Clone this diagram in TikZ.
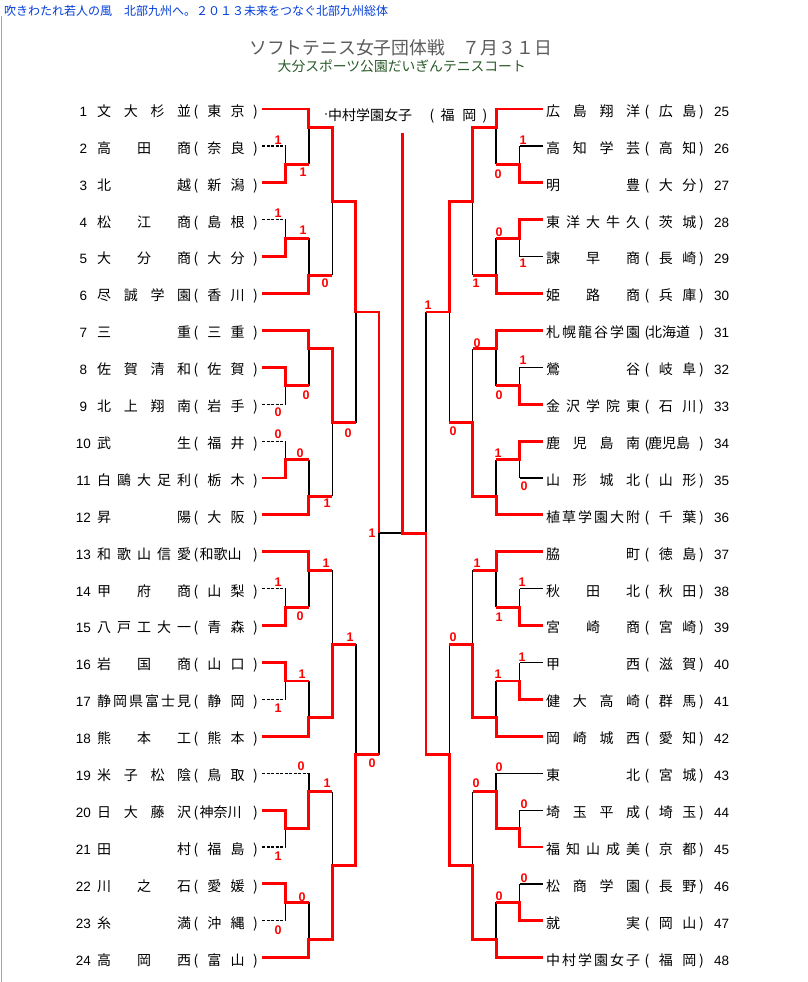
\documentclass[tikz,border=0pt]{standalone}
\usepackage{fontspec}
\setmainfont{Noto Sans CJK JP}
\newfontfamily\numfont{Liberation Sans}
\newfontfamily\labfont{Liberation Sans}
\definecolor{hdrblue}{RGB}{0,60,220}
\definecolor{ttlgray}{RGB}{90,90,90}
\definecolor{subgreen}{RGB}{40,90,40}
\definecolor{winred}{RGB}{255,0,0}
\def\spreadA#1#2{#1\ifx\relax#2\else\hfil\expandafter\spreadA\expandafter#2\fi}
\newcommand\spr[1]{\spreadA#1\relax}
\def\xLa{285.4}\def\xLb{308.8}\def\xLc{332.2}\def\xLd{355.6}\def\xLe{379}
\def\xRa{519.6}\def\xRb{496.2}\def\xRc{472.8}\def\xRd{449.4}\def\xRe{426}
\def\xXc{402.5}
% left team: number, y, name, prefecture text, prefecture centre x
\newcommand\tmL[5]{%
  \coordinate (eL#1) at (262,#2);
  \node[tn, anchor=base] (numL#1) at (83.5,#2+7.3) {#1};
  \node[tj, anchor=base west] (nameL#1) at (97,#2+7.3) {\makebox[94pt][s]{\spr{#3}}};
  \node[tj, anchor=base] (poL#1) at (196,#2+7.3) {(};
  \node[tj, anchor=base] (prL#1) at (#5,#2+7.3) {#4};
  \node[tj, anchor=base] (pcL#1) at (255.5,#2+7.3) {)};
}
\newcommand\tmR[5]{%
  \coordinate (eR#1) at (543,#2);
  \node[tj, anchor=base west] (nameR#1) at (546,#2+7.3) {\makebox[94pt][s]{\spr{#3}}};
  \node[tj, anchor=base] (poR#1) at (647,#2+7.3) {(};
  \node[tj, anchor=base] (prR#1) at (#5,#2+7.3) {#4};
  \node[tj, anchor=base] (pcR#1) at (701.5,#2+7.3) {)};
  \node[tn, anchor=base west] (numR#1) at (714,#2+7.3) {#1};
}
\newcommand\two[2]{#1\hspace{9.5pt}#2}
\tikzset{
  tj/.style={inner sep=0pt, font=\fontsize{14}{14}\selectfont},
  tn/.style={inner sep=0pt, font=\numfont\fontsize{13.5}{14}\selectfont},
  sc/.style={inner sep=0pt, text=winred, font=\labfont\bfseries\fontsize{12.5}{12.5}\selectfont},
  win/.style={draw=winred, line width=2.9pt, line join=miter},
  lose/.style={draw=black, line width=0.9pt},
  losek/.style={draw=black, line width=1.8pt},
  losed/.style={draw=black, line width=1.2pt, dash pattern=on 3pt off 1.5pt},
  loses/.style={draw=black, line width=1.2pt},
}
\begin{document}
\begin{tikzpicture}[x=1pt,y=-1pt]
\useasboundingbox (0,0) rectangle (808,982);
\fill[white] (0,0) rectangle (808,982);
\draw[gray!70, line width=1pt] (1.5,16) -- (1.5,982);

% headers
\node[inner sep=0pt, anchor=base west, text=hdrblue, font=\fontsize{12}{12}\selectfont] (hdr) at (4,15.5)
  {吹きわたれ若人の風　北部九州へ。２０１３未来をつなぐ北部九州総体};
\node[inner sep=0pt, anchor=base west, text=ttlgray, font=\fontsize{17.8}{18}\selectfont] (title) at (249,54.3)
  {ソフトテニス女子団体戦　７月３１日};
\node[inner sep=0pt, anchor=base west, text=subgreen, font=\fontsize{13.8}{14}\selectfont] (sub) at (277.5,71.2)
  {大分スポーツ公園だいぎんテニスコート};
% champion
\fill[black] (326,114) circle (0.9);
\node[tj, anchor=base west] (champ) at (328,120.3) {中村学園女子};
\node[tj, anchor=base] (champo) at (432,120.3) {(};
\node[tj, anchor=base] (champp) at (458.5,120.3) {福\hspace{7.7pt}岡};
\node[tj, anchor=base] (champc) at (485,120.3) {)};

% left teams
\tmL{1}{109}{文大杉並}{\two{東}{京}}{226}
\tmL{2}{145.9}{高田商}{\two{奈}{良}}{226}
\tmL{3}{182.8}{北越}{\two{新}{潟}}{226}
\tmL{4}{219.7}{松江商}{\two{島}{根}}{226}
\tmL{5}{256.6}{大分商}{\two{大}{分}}{226}
\tmL{6}{293.5}{尽誠学園}{\two{香}{川}}{226}
\tmL{7}{330.4}{三重}{\two{三}{重}}{226}
\tmL{8}{367.3}{佐賀清和}{\two{佐}{賀}}{226}
\tmL{9}{404.2}{北上翔南}{\two{岩}{手}}{226}
\tmL{10}{441.1}{武生}{\two{福}{井}}{226}
\tmL{11}{478}{白鷗大足利}{\two{栃}{木}}{226}
\tmL{12}{514.9}{昇陽}{\two{大}{阪}}{226}
\tmL{13}{551.8}{和歌山信愛}{和歌山}{220.5}
\tmL{14}{588.7}{甲府商}{\two{山}{梨}}{226}
\tmL{15}{625.6}{八戸工大一}{\two{青}{森}}{226}
\tmL{16}{662.5}{岩国商}{\two{山}{口}}{226}
\tmL{17}{699.4}{静岡県富士見}{\two{静}{岡}}{226}
\tmL{18}{736.3}{熊本工}{\two{熊}{本}}{226}
\tmL{19}{773.2}{米子松陰}{\two{鳥}{取}}{226}
\tmL{20}{810.1}{日大藤沢}{神奈川}{220.5}
\tmL{21}{847}{田村}{\two{福}{島}}{226}
\tmL{22}{883.9}{川之石}{\two{愛}{媛}}{226}
\tmL{23}{920.8}{糸満}{\two{沖}{縄}}{226}
\tmL{24}{957.7}{高岡西}{\two{富}{山}}{226}

% right teams
\tmR{25}{109}{広島翔洋}{\two{広}{島}}{677.5}
\tmR{26}{145.9}{高知学芸}{\two{高}{知}}{677.5}
\tmR{27}{182.8}{明豊}{\two{大}{分}}{677.5}
\tmR{28}{219.7}{東洋大牛久}{\two{茨}{城}}{677.5}
\tmR{29}{256.6}{諫早商}{\two{長}{崎}}{677.5}
\tmR{30}{293.5}{姫路商}{\two{兵}{庫}}{677.5}
\tmR{31}{330.4}{札幌龍谷学園}{北海道}{669}
\tmR{32}{367.3}{鶯谷}{\two{岐}{阜}}{677.5}
\tmR{33}{404.2}{金沢学院東}{\two{石}{川}}{677.5}
\tmR{34}{441.1}{鹿児島南}{鹿児島}{669}
\tmR{35}{478}{山形城北}{\two{山}{形}}{677.5}
\tmR{36}{514.9}{植草学園大附}{\two{千}{葉}}{677.5}
\tmR{37}{551.8}{脇町}{\two{徳}{島}}{677.5}
\tmR{38}{588.7}{秋田北}{\two{秋}{田}}{677.5}
\tmR{39}{625.6}{宮崎商}{\two{宮}{崎}}{677.5}
\tmR{40}{662.5}{甲西}{\two{滋}{賀}}{677.5}
\tmR{41}{699.4}{健大高崎}{\two{群}{馬}}{677.5}
\tmR{42}{736.3}{岡崎城西}{\two{愛}{知}}{677.5}
\tmR{43}{773.2}{東北}{\two{宮}{城}}{677.5}
\tmR{44}{810.1}{埼玉平成}{\two{埼}{玉}}{677.5}
\tmR{45}{847}{福知山成美}{\two{京}{都}}{677.5}
\tmR{46}{883.9}{松商学園}{\two{長}{野}}{677.5}
\tmR{47}{920.8}{就実}{\two{岡}{山}}{677.5}
\tmR{48}{957.7}{中村学園女子}{\two{福}{岡}}{677.5}

% ---- black (losing) lines, left
\draw[losed] (eL2)--(\xLa,145.9) (eL4)--(\xLa,219.7) (eL9)--(\xLa,404.2) (eL10)--(\xLa,441.1)
  (eL14)--(\xLa,588.7) (eL17)--(\xLa,699.4) (eL19)--(\xLb,773.2) (eL21)--(\xLa,847) (eL23)--(\xLa,920.8);
\draw[lose] (\xLa,145.9)--(\xLa,164.35) (\xLa,219.7)--(\xLa,238.15) (\xLa,404.2)--(\xLa,385.75)
  (\xLa,441.1)--(\xLa,459.55) (\xLa,588.7)--(\xLa,607.15) (\xLa,699.4)--(\xLa,680.95)
  (\xLa,847)--(\xLa,828.55) (\xLa,920.8)--(\xLa,902.35);
\draw[losek] (\xLb,164.35)--(\xLb,127.45) (\xLb,238.15)--(\xLb,275.05) (\xLb,385.75)--(\xLb,348.85)
  (\xLb,459.55)--(\xLb,496.45) (\xLb,607.15)--(\xLb,570.25) (\xLb,680.95)--(\xLb,717.85)
  (\xLb,773.2)--(\xLb,791.65) (\xLb,902.35)--(\xLb,939.25);
\draw[lose] (\xLc,275.05)--(\xLc,201.25) (\xLc,496.45)--(\xLc,422.65) (\xLc,570.25)--(\xLc,644.05)
  (\xLc,791.65)--(\xLc,865.45);
\draw[losek] (\xLd,422.65)--(\xLd,311.95) (\xLd,644.05)--(\xLd,754.75);
\draw[losek] (\xLe,754.75)--(\xLe,533.35)--(\xXc,533.35);

% ---- black (losing) lines, right
\draw[loses] (eR26)--(\xRa,145.9) (eR29)--(\xRa,256.6) (eR32)--(\xRa,367.3) (eR35)--(\xRa,478)
  (eR38)--(\xRa,588.7) (eR40)--(\xRa,662.5) (eR43)--(\xRb,773.2) (eR44)--(\xRa,810.1) (eR46)--(\xRa,883.9);
\draw[lose] (\xRa,145.9)--(\xRa,164.35) (\xRa,256.6)--(\xRa,238.15) (\xRa,367.3)--(\xRa,385.75)
  (\xRa,478)--(\xRa,459.55) (\xRa,588.7)--(\xRa,607.15) (\xRa,662.5)--(\xRa,680.95)
  (\xRa,810.1)--(\xRa,828.55) (\xRa,883.9)--(\xRa,902.35);
\draw[losek] (\xRb,164.35)--(\xRb,127.45) (\xRb,238.15)--(\xRb,275.05) (\xRb,385.75)--(\xRb,348.85)
  (\xRb,459.55)--(\xRb,496.45) (\xRb,607.15)--(\xRb,570.25) (\xRb,680.95)--(\xRb,717.85)
  (\xRb,773.2)--(\xRb,791.65) (\xRb,902.35)--(\xRb,939.25);
\draw[lose] (\xRc,275.05)--(\xRc,201.25) (\xRc,348.85)--(\xRc,422.65) (\xRc,570.25)--(\xRc,644.05)
  (\xRc,791.65)--(\xRc,865.45);
\draw[losek] (\xRd,422.65)--(\xRd,311.95) (\xRd,644.05)--(\xRd,754.75);
\draw[losek] (\xRe,311.95)--(\xRe,533.35);

% ---- red (winning) paths, left
\draw[win] (eL1)--(\xLb,109)--(\xLb,127.45)--(\xLc,127.45)--(\xLc,201.25)--(\xLd,201.25)--(\xLd,311.95)--(\xLe,311.95)--(\xLe,533.35);
\draw[win] (eL3)--(\xLa,182.8)--(\xLa,164.35)--(\xLb,164.35);
\draw[win] (eL5)--(\xLa,256.6)--(\xLa,238.15)--(\xLb,238.15);
\draw[win] (eL6)--(\xLb,293.5)--(\xLb,275.05)--(\xLc,275.05);
\draw[win] (eL7)--(\xLb,330.4)--(\xLb,348.85)--(\xLc,348.85)--(\xLc,422.65)--(\xLd,422.65);
\draw[win] (eL8)--(\xLa,367.3)--(\xLa,385.75)--(\xLb,385.75);
\draw[win] (eL11)--(\xLa,478)--(\xLa,459.55)--(\xLb,459.55);
\draw[win] (eL12)--(\xLb,514.9)--(\xLb,496.45)--(\xLc,496.45);
\draw[win] (eL13)--(\xLb,551.8)--(\xLb,570.25)--(\xLc,570.25);
\draw[win] (eL15)--(\xLa,625.6)--(\xLa,607.15)--(\xLb,607.15);
\draw[win] (eL16)--(\xLa,662.5)--(\xLa,680.95)--(\xLb,680.95);
\draw[win] (eL18)--(\xLb,736.3)--(\xLb,717.85)--(\xLc,717.85)--(\xLc,644.05)--(\xLd,644.05);
\draw[win] (eL20)--(\xLa,810.1)--(\xLa,828.55)--(\xLb,828.55)--(\xLb,791.65)--(\xLc,791.65);
\draw[win] (eL22)--(\xLa,883.9)--(\xLa,902.35)--(\xLb,902.35);
\draw[win] (eL24)--(\xLb,957.7)--(\xLb,939.25)--(\xLc,939.25)--(\xLc,865.45)--(\xLd,865.45)--(\xLd,754.75)--(\xLe,754.75);

% ---- red (winning) paths, right
\draw[win] (eR25)--(\xRb,109)--(\xRb,127.45)--(\xRc,127.45)--(\xRc,201.25)--(\xRd,201.25)--(\xRd,311.95)--(\xRe,311.95);
\draw[win] (eR27)--(\xRa,182.8)--(\xRa,164.35)--(\xRb,164.35);
\draw[win] (eR28)--(\xRa,219.7)--(\xRa,238.15)--(\xRb,238.15);
\draw[win] (eR30)--(\xRb,293.5)--(\xRb,275.05)--(\xRc,275.05);
\draw[win] (eR31)--(\xRb,330.4)--(\xRb,348.85)--(\xRc,348.85);
\draw[win] (eR33)--(\xRa,404.2)--(\xRa,385.75)--(\xRb,385.75);
\draw[win] (eR34)--(\xRa,441.1)--(\xRa,459.55)--(\xRb,459.55);
\draw[win] (eR36)--(\xRb,514.9)--(\xRb,496.45)--(\xRc,496.45)--(\xRc,422.65)--(\xRd,422.65);
\draw[win] (eR37)--(\xRb,551.8)--(\xRb,570.25)--(\xRc,570.25);
\draw[win] (eR39)--(\xRa,625.6)--(\xRa,607.15)--(\xRb,607.15);
\draw[win] (eR41)--(\xRa,699.4)--(\xRa,680.95)--(\xRb,680.95);
\draw[win] (eR42)--(\xRb,736.3)--(\xRb,717.85)--(\xRc,717.85)--(\xRc,644.05)--(\xRd,644.05);
\draw[win] (eR45)--(\xRa,847)--(\xRa,828.55)--(\xRb,828.55)--(\xRb,791.65)--(\xRc,791.65);
\draw[win] (eR47)--(\xRa,920.8)--(\xRa,902.35)--(\xRb,902.35);
\draw[win] (eR48)--(\xRb,957.7)--(\xRb,939.25)--(\xRc,939.25)--(\xRc,865.45)--(\xRd,865.45)--(\xRd,754.75)--(\xRe,754.75)--(\xRe,533.35)--(\xXc,533.35)--(\xXc,133);

% ---- scores, left
\node[sc] (s2) at (278,140) {1};
\node[sc] (s3) at (303,172) {1};
\node[sc] (s4) at (278,213) {1};
\node[sc] (s5) at (303,230) {1};
\node[sc] (s6) at (325,283) {0};
\node[sc] (s8) at (306,395) {0};
\node[sc] (s9) at (278,412) {0};
\node[sc] (s10) at (278,434) {0};
\node[sc] (s11) at (300,453) {0};
\node[sc] (s12) at (327,503) {1};
\node[sc] (s7) at (348,433) {0};
\node[sc] (s1) at (372,533.5) {1};
\node[sc] (s13) at (326,563) {1};
\node[sc] (s14) at (278,582) {1};
\node[sc] (s15) at (300,616) {0};
\node[sc] (s18) at (350,637) {1};
\node[sc] (s16) at (302,674) {1};
\node[sc] (s17) at (278,708) {1};
\node[sc] (s24) at (372,763) {0};
\node[sc] (s19) at (301,766) {0};
\node[sc] (s20) at (327,783) {1};
\node[sc] (s21) at (278,856) {1};
\node[sc] (s22) at (302,897) {0};
\node[sc] (s23) at (278,930) {0};
% ---- scores, right
\node[sc] (s26) at (523,140) {1};
\node[sc] (s27) at (498,174) {0};
\node[sc] (s28) at (499,232) {0};
\node[sc] (s29) at (523,263) {1};
\node[sc] (s30) at (476,283) {1};
\node[sc] (s25) at (428,305) {1};
\node[sc] (s31) at (477,343) {0};
\node[sc] (s32) at (523,360) {1};
\node[sc] (s33) at (499,395) {0};
\node[sc] (s36) at (453,431) {0};
\node[sc] (s34) at (498,453) {1};
\node[sc] (s35) at (524,486) {0};
\node[sc] (s37) at (477,563) {1};
\node[sc] (s38) at (522,582) {1};
\node[sc] (s39) at (499,617) {1};
\node[sc] (s42) at (453,637) {0};
\node[sc] (s40) at (522,657) {1};
\node[sc] (s41) at (498,674) {1};
\node[sc] (s43) at (499,767) {0};
\node[sc] (s45) at (476,783) {0};
\node[sc] (s44) at (524,804) {0};
\node[sc] (s46) at (524,878) {0};
\node[sc] (s47) at (499,896) {0};
\end{tikzpicture}
\end{document}
